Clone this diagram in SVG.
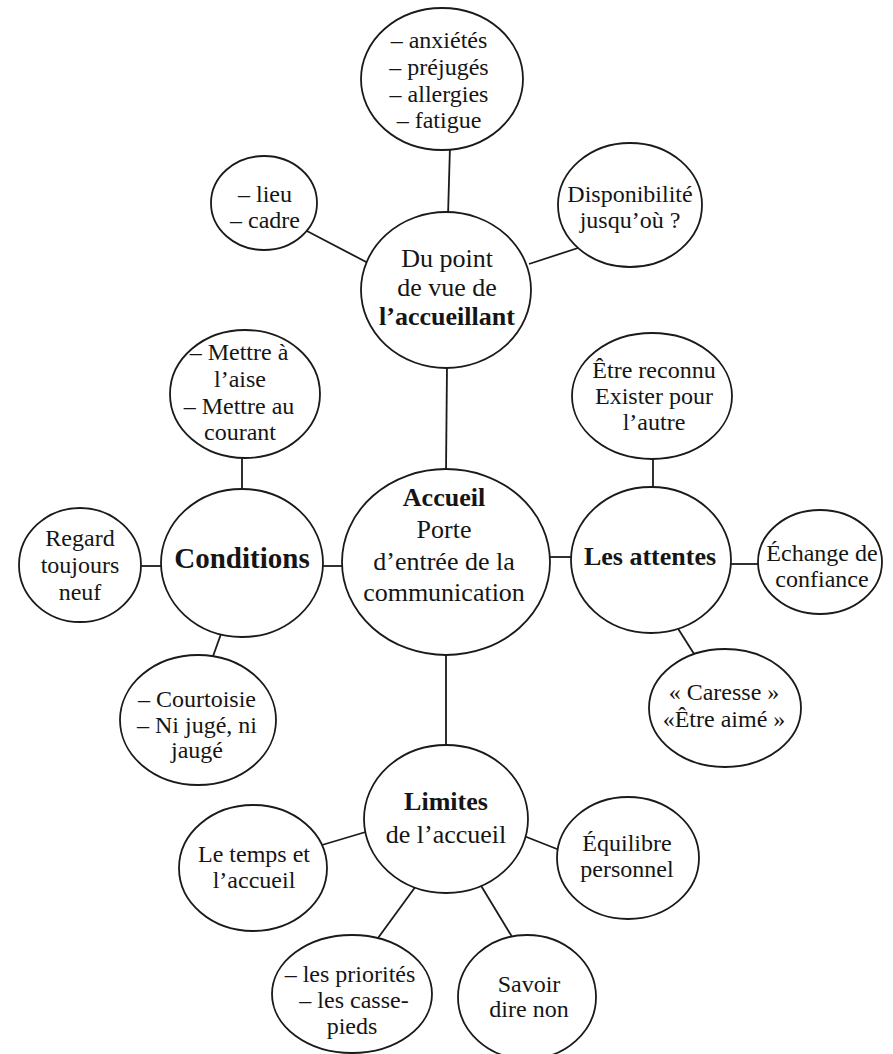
<svg xmlns="http://www.w3.org/2000/svg" width="893" height="1054" viewBox="0 0 893 1054">
<style>
.n{fill:#fff;stroke:#1a1a1a;stroke-width:1.8}
.c line{stroke:#1a1a1a;stroke-width:1.8}
text{font-family:"Liberation Serif","Times New Roman",serif;fill:#151515;text-anchor:middle}
.s{font-size:24px}
.h{font-size:26px}
.b{font-weight:bold}
</style>
<rect width="893" height="1054" fill="#fff"/>
<g id="connectors" class="c">
<line x1="450" y1="146" x2="448" y2="216"/>
<line x1="305" y1="230" x2="370" y2="264"/>
<line x1="529" y1="264" x2="581" y2="247"/>
<line x1="447" y1="366" x2="446" y2="472"/>
<line x1="242" y1="455" x2="242" y2="492"/>
<line x1="137" y1="566" x2="164" y2="566"/>
<line x1="320" y1="566" x2="345" y2="566"/>
<line x1="221" y1="634" x2="212" y2="659"/>
<line x1="547" y1="557" x2="574" y2="557"/>
<line x1="653" y1="455" x2="653" y2="490"/>
<line x1="729" y1="564" x2="761" y2="564"/>
<line x1="677" y1="627" x2="696" y2="657"/>
<line x1="446" y1="652" x2="446" y2="748"/>
<line x1="322" y1="845" x2="369" y2="831"/>
<line x1="524" y1="836" x2="562" y2="851"/>
<line x1="416" y1="886" x2="378" y2="938"/>
<line x1="480" y1="884" x2="514" y2="940"/>
</g>
<g id="anxietes">
<ellipse class="n" cx="442" cy="79" rx="81" ry="71"/>
<text class="s" x="439" y="48">– anxiétés</text>
<text class="s" x="439" y="75">– préjugés</text>
<text class="s" x="439" y="102">– allergies</text>
<text class="s" x="439" y="128">– fatigue</text>
</g>
<g id="lieu">
<ellipse class="n" cx="264" cy="203" rx="53" ry="47"/>
<text class="s" x="265" y="202">– lieu</text>
<text class="s" x="265" y="228">– cadre</text>
</g>
<g id="disponibilite">
<ellipse class="n" cx="630" cy="205" rx="72" ry="62"/>
<text class="s" x="630" y="202">Disponibilité</text>
<text class="s" x="630" y="228">jusqu’où ?</text>
</g>
<g id="accueillant">
<ellipse class="n" cx="446" cy="290" rx="85" ry="78"/>
<text class="h" x="447" y="267">Du point</text>
<text class="h" x="447" y="296">de vue de</text>
<text class="h b" x="447" y="325">l’accueillant</text>
</g>
<g id="mettre">
<ellipse class="n" cx="245" cy="394" rx="75" ry="64"/>
<text class="s" x="239" y="360">– Mettre à</text>
<text class="s" x="240" y="387">l’aise</text>
<text class="s" x="239" y="414">– Mettre au</text>
<text class="s" x="240" y="440">courant</text>
</g>
<g id="reconnu">
<ellipse class="n" cx="652" cy="396" rx="80" ry="63"/>
<text class="s" x="654" y="378">Être reconnu</text>
<text class="s" x="654" y="404">Exister pour</text>
<text class="s" x="654" y="430">l’autre</text>
</g>
<g id="regard">
<ellipse class="n" cx="80" cy="565" rx="61" ry="57"/>
<text class="s" x="80" y="546">Regard</text>
<text class="s" x="80" y="573">toujours</text>
<text class="s" x="80" y="600">neuf</text>
</g>
<g id="conditions">
<ellipse class="n" cx="242" cy="563" rx="81" ry="74"/>
<text class="b" style="font-size:29px" x="242" y="568">Conditions</text>
</g>
<g id="accueil">
<ellipse class="n" cx="446" cy="562" rx="104" ry="93"/>
<text class="h b" x="444" y="506">Accueil</text>
<text class="h" x="444" y="538">Porte</text>
<text class="h" x="444" y="570">d’entrée de la</text>
<text class="h" x="444" y="601">communication</text>
</g>
<g id="attentes">
<ellipse class="n" cx="651" cy="560" rx="80" ry="73"/>
<text class="h b" x="650" y="565">Les attentes</text>
</g>
<g id="echange">
<ellipse class="n" cx="820" cy="562" rx="62" ry="52"/>
<text class="s" x="822" y="561">Échange de</text>
<text class="s" x="822" y="587">confiance</text>
</g>
<g id="courtoisie">
<ellipse class="n" cx="198" cy="720" rx="78" ry="65"/>
<text class="s" x="197" y="707">– Courtoisie</text>
<text class="s" x="197" y="733">– Ni jugé, ni</text>
<text class="s" x="197" y="758">jaugé</text>
</g>
<g id="caresse">
<ellipse class="n" cx="725" cy="708" rx="76" ry="59"/>
<text class="s" x="724" y="700">« Caresse »</text>
<text class="s" x="724" y="727">«Être aimé »</text>
</g>
<g id="limites">
<ellipse class="n" cx="446" cy="819" rx="82" ry="74"/>
<text class="h b" x="446" y="810">Limites</text>
<text class="h" x="446" y="843">de l’accueil</text>
</g>
<g id="temps">
<ellipse class="n" cx="253" cy="868" rx="74" ry="63"/>
<text class="s" x="254" y="862">Le temps et</text>
<text class="s" x="254" y="888">l’accueil</text>
</g>
<g id="equilibre">
<ellipse class="n" cx="628" cy="858" rx="71" ry="61"/>
<text class="s" x="627" y="851">Équilibre</text>
<text class="s" x="627" y="877">personnel</text>
</g>
<g id="priorites">
<ellipse class="n" cx="352" cy="994" rx="80" ry="59"/>
<text class="s" x="350" y="982">– les priorités</text>
<text class="s" x="354" y="1008">– les casse-</text>
<text class="s" x="352" y="1034">pieds</text>
</g>
<g id="savoir">
<ellipse class="n" cx="527" cy="997" rx="69" ry="62"/>
<text class="s" x="529" y="992">Savoir</text>
<text class="s" x="529" y="1017">dire non</text>
</g>
</svg>
